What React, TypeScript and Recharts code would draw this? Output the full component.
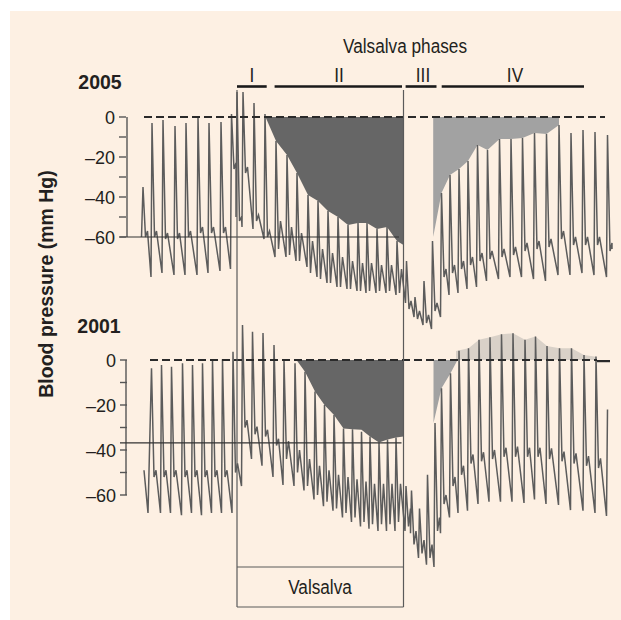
import React from 'react';
import { ComposedChart, Line, Area, XAxis, YAxis, ReferenceLine } from 'recharts';

// time axis in seconds, pressure in mm Hg relative to resting systolic
// beat rows: [peak time, systolic peak, dip, dicrotic notch, diastolic trough]
const topLead = [[1.45, -60]];
const topBeats = [
  [1.6, -35, -60, -57, -80],
  [2.5, -3, -60, -57, -78],
  [3.6, -1.5, -61, -58, -79],
  [4.8, -4.5, -61, -58, -79],
  [5.9, -3, -60, -57, -79],
  [7.1, 0, -58, -55, -78],
  [8.2, -3, -58, -55, -77],
  [9.4, -2.5, -58, -55, -76],
  [10.45, 1.5, -26, -23, -50],
  [11.0, 12.5, -52, -50, -55],
  [11.6, 12.5, -28, -25, -56],
  [12.7, 7, -52, -49, -61],
  [13.8, 1.5, -60, -57, -70],
  [14.9, -12, -66, -52, -70],
  [16.0, -19, -69, -55, -72],
  [17.0, -28, -72, -58, -75],
  [18.1, -39, -78, -62, -80],
  [19.1, -42, -81, -66, -83],
  [20.1, -47, -83, -68, -85],
  [21.1, -50, -85, -70, -86],
  [22.1, -54, -86, -72, -87],
  [23.1, -53, -87, -73, -88],
  [24.0, -53, -87, -73, -88],
  [25.0, -56, -87, -74, -88],
  [26.0, -55, -87, -74, -89],
  [27.0, -62, -88, -76, -93],
  [27.95, -72, -96, -92, -100],
  [28.8, -90, -101, -97, -104],
  [29.7, -82, -103, -99, -106],
  [30.55, -62, -97, -93, -100],
  [31.45, -38, -80, -76, -89],
  [32.3, -29, -78, -74, -88],
  [33.2, -26, -76, -72, -86],
  [34.1, -22, -74, -70, -85],
  [35.05, -14, -72, -68, -82],
  [36.05, -16.5, -71, -67, -81],
  [37.25, -11, -70, -66, -80],
  [38.4, -11, -69, -65, -80],
  [39.55, -10.5, -67, -63, -81],
  [40.75, -8, -66, -62, -82],
  [41.95, -8.5, -65, -61, -79],
  [43.2, -4, -61, -57, -79],
  [44.4, -8, -64, -60, -78],
  [45.6, -6.5, -64, -60, -79],
  [46.8, -7.5, -64, -60, -80],
  [48.05, -9, -67, -63],
];
const topTrail = [[48.5, -66]];

const botLead = [[1.7, -49], [2.1, -68]];
const botBeats = [
  [2.45, -3.7, -52, -49, -68],
  [3.45, -2.2, -52, -49, -68],
  [4.45, -3, -52, -49, -69],
  [5.55, -1.5, -52, -49, -68],
  [6.55, -2.2, -52, -49, -69],
  [7.55, -1.5, -52, -49, -68],
  [8.55, 0, -52, -49, -68],
  [9.55, 0.3, -52, -49, -68],
  [10.6, 3.7, -50, -46, -56],
  [11.55, 15.5, -30, -26.7, -44],
  [12.55, 12.6, -33, -29.6, -47],
  [13.6, 12, -34, -31, -52],
  [14.7, 6.7, -38, -35, -55.5],
  [15.7, 0, -44, -36, -56],
  [16.8, -1.5, -50, -40, -58],
  [17.8, -5.2, -56, -44, -62],
  [18.8, -14, -60, -47, -65],
  [19.75, -20, -63, -49, -67],
  [20.7, -24.4, -66, -51, -70],
  [21.65, -30.4, -68, -52, -72],
  [22.55, -30.8, -70, -53, -74],
  [23.45, -31.9, -72, -54, -75],
  [24.3, -34, -73, -55, -76],
  [25.2, -36.7, -73, -55, -76],
  [26.05, -35.3, -73, -55, -76],
  [26.9, -34.4, -72, -55, -76],
  [27.9, -56, -74, -66, -77],
  [28.45, -58, -82, -76, -88],
  [29.25, -66, -86, -80, -91],
  [30.05, -51, -88, -82, -92],
  [30.8, -28, -76, -70, -77],
  [31.45, -12.6, -64, -60, -70],
  [32.35, -5.9, -56, -52, -68],
  [33.2, 4.1, -51, -47, -67],
  [34.15, 5.2, -46, -42, -64],
  [35.2, 9, -45, -41, -63],
  [36.3, 10.1, -44, -40, -63],
  [37.45, 11.4, -43, -39, -63],
  [38.6, 11.9, -43, -38.5, -63.5],
  [39.8, 9, -43, -39, -62],
  [40.85, 10.4, -43, -39, -64],
  [42.0, 6.2, -44, -39.3, -64.4],
  [43.25, 5.2, -45, -40.7, -66.7],
  [44.45, 5.2, -46, -41.5, -67],
  [45.7, 2.2, -47, -42.7, -68],
  [46.9, 1.5, -48, -43.7, -69.3],
  [48.05, -22],
];
const botTrail: number[][] = [];

// shaded areas between the 0 line and the peak envelope
const topPhase2 = [
  [13.85, 0], [14.9, -12], [16.0, -19], [17.0, -28], [18.1, -39], [19.1, -42],
  [20.1, -47], [21.1, -50], [22.1, -54], [23.1, -53], [24.0, -53], [25.0, -56],
  [26.0, -55], [27.0, -62], [27.65, -64],
];
const topPhase4 = [
  [30.62, -60], [31.45, -38], [32.3, -29], [33.2, -26], [34.1, -22], [35.05, -14],
  [36.05, -16.5], [37.25, -11], [38.4, -11], [39.55, -10.5], [40.75, -8],
  [41.95, -8.5], [43.2, -4],
];
const botPhase2 = [
  [16.95, 0], [17.8, -5.2], [18.8, -14], [19.75, -20], [20.7, -24.4], [21.65, -30.4],
  [22.55, -30.8], [23.45, -31], [24.3, -34], [25.2, -36.7], [26.05, -35.3],
  [26.9, -34.4], [27.65, -34],
];
const botPhase4 = [[30.65, -28], [31.45, -12.6], [32.35, -5.9], [33.05, 0]];
const botOvershoot = [
  [32.9, 4], [34.15, 5.2], [35.2, 9], [36.3, 10.1], [37.45, 11.4], [38.6, 11.9],
  [39.8, 9], [40.85, 10.4], [42.0, 6.2], [43.25, 5.2], [44.45, 5.2], [45.7, 2.2],
  [46.9, 1.5],
];

const yTicks = [0, -10, -20, -30, -40, -50, -60];
const phaseLabels = ['I', 'II', 'III', 'IV'];
const phaseSpans = [[11.0, 13.97], [14.76, 27.5], [27.86, 30.95], [31.47, 45.7]];
const phaseLabelX = [252, 339, 422.5, 514.5];

const CREAM = '#fdf0e3';
const TRACE = '#5c5c5c';
const AXIS = '#555';
const NARROW = "'Liberation Sans Narrow', 'Arial Narrow', 'Liberation Sans', sans-serif";
const BOLD = "'Liberation Sans', Arial, sans-serif";

function buildWave(lead: number[][], beats: number[][], trail: number[][]) {
  const pts = lead.map(([t, v]) => ({ t, v }));
  beats.forEach((b, i) => {
    pts.push({ t: b[0], v: b[1] });
    if (b.length < 4) return;
    pts.push({ t: b[0] + 0.25, v: b[2] });
    pts.push({ t: b[0] + 0.45, v: b[3] });
    const next = beats[i + 1];
    if (next && b.length > 4) pts.push({ t: next[0] - 0.1, v: b[4] });
  });
  trail.forEach(([t, v]) => pts.push({ t, v }));
  return pts;
}

const toPts = (rows: number[][]) => rows.map(([t, v]) => ({ t, v }));

const topWave = buildWave(topLead, topBeats, topTrail);
const botWave = buildWave(botLead, botBeats, botTrail);

const renderTick = (props: any) => {
  const { x, y, payload } = props;
  const v = payload.value;
  if (v % 20 !== 0) return <g />;
  return (
    <text x={x} y={y} dy={6.5} textAnchor="end" fontFamily={BOLD} fontSize={18} fill="#231f20">
      {v === 0 ? '0' : '\u2013' + Math.abs(v)}
    </text>
  );
};

const Txt: React.FC<{ x: number; y: number; size: number; bold?: boolean; rotate?: boolean; narrow?: number; children: React.ReactNode }> = ({
  x, y, size, bold, rotate, narrow, children,
}) => (
  <div
    style={{
      position: 'absolute',
      left: x,
      top: y,
      transform: `translate(-50%, -50%)${rotate ? ' rotate(-90deg)' : ''}${narrow ? ` scaleX(${narrow})` : ''}`,
      whiteSpace: 'nowrap',
      lineHeight: 1,
      fontSize: size,
      fontFamily: bold ? BOLD : NARROW,
      fontWeight: bold ? 700 : 400,
      color: '#231f20',
    }}
  >
    {children}
  </div>
);

const axisProps = {
  type: 'number' as const,
  width: 1,
  allowDataOverflow: true,
  ticks: yTicks,
  interval: 0 as const,
  axisLine: false,
  tickLine: { stroke: AXIS, strokeWidth: 1.4 },
  tickSize: 7,
  tickMargin: 4,
  tick: renderTick,
};

export default function App() {
  return (
    <div style={{ position: 'absolute', left: 0, top: 0, width: 621, height: 620, background: '#fff', overflow: 'hidden' }}>
      <div style={{ position: 'absolute', left: 10, top: 11, width: 611, height: 609, background: CREAM }} />
      <div style={{ position: 'absolute', left: 0, top: 0 }}>
        <ComposedChart width={621} height={620} margin={{ top: 12, right: 8, bottom: 8, left: 125 }}>
          <XAxis dataKey="t" type="number" domain={[0, 48.6]} allowDataOverflow hide />
          <YAxis yAxisId="top" domain={[-247.5, 52.5]} {...axisProps} />
          <YAxis yAxisId="bot" domain={[-112, 154.667]} {...axisProps} />

          <Area yAxisId="top" data={toPts(topPhase2)} dataKey="v" type="linear" baseValue={0} fill="#666" fillOpacity={1} stroke="none" isAnimationActive={false} />
          <Area yAxisId="top" data={toPts(topPhase4)} dataKey="v" type="linear" baseValue={0} fill="#a2a2a2" fillOpacity={1} stroke="none" isAnimationActive={false} />
          <Area yAxisId="bot" data={toPts(botPhase2)} dataKey="v" type="linear" baseValue={0} fill="#666" fillOpacity={1} stroke="none" isAnimationActive={false} />
          <Area yAxisId="bot" data={toPts(botPhase4)} dataKey="v" type="linear" baseValue={0} fill="#a2a2a2" fillOpacity={1} stroke="none" isAnimationActive={false} />
          <Area yAxisId="bot" data={toPts(botOvershoot)} dataKey="v" type="linear" baseValue={0} fill="#d9d1c8" fillOpacity={1} stroke="none" isAnimationActive={false} />

          <Line yAxisId="top" data={topWave} dataKey="v" type="linear" stroke={TRACE} strokeWidth={1.5} dot={false} activeDot={false} isAnimationActive={false} />
          <Line yAxisId="bot" data={botWave} dataKey="v" type="linear" stroke={TRACE} strokeWidth={1.5} dot={false} activeDot={false} isAnimationActive={false} />

          {/* axis spines */}
          <ReferenceLine yAxisId="top" segment={[{ x: 0, y: 0 }, { x: 0, y: -60 }]} stroke={AXIS} strokeWidth={1.4} ifOverflow="visible" />
          <ReferenceLine yAxisId="bot" segment={[{ x: -0.1, y: 0 }, { x: -0.1, y: -60 }]} stroke={AXIS} strokeWidth={1.4} ifOverflow="visible" />

          {/* zero lines */}
          <ReferenceLine yAxisId="top" segment={[{ x: 1.7, y: 0 }, { x: 47.8, y: 0 }]} stroke="#2a2a2a" strokeWidth={2.2} strokeDasharray="8 4" ifOverflow="visible" />
          <ReferenceLine yAxisId="bot" segment={[{ x: 2.3, y: 0 }, { x: 47.0, y: 0 }]} stroke="#2a2a2a" strokeWidth={2.2} strokeDasharray="8 4" ifOverflow="visible" />
          <ReferenceLine yAxisId="bot" segment={[{ x: 47.0, y: -0.5 }, { x: 48.3, y: -0.5 }]} stroke="#2a2a2a" strokeWidth={2.2} ifOverflow="visible" />

          {/* level lines at the phase II minimum */}
          <ReferenceLine yAxisId="top" segment={[{ x: -0.7, y: -60 }, { x: 27.2, y: -60 }]} stroke="#333" strokeWidth={1.2} ifOverflow="visible" />
          <ReferenceLine yAxisId="bot" segment={[{ x: -0.7, y: -36.8 }, { x: 27.45, y: -36.8 }]} stroke="#333" strokeWidth={1.2} ifOverflow="visible" />

          {/* Valsalva strain window and box */}
          <ReferenceLine yAxisId="top" segment={[{ x: 11.0, y: 13.5 }, { x: 11.0, y: -245 }]} stroke="#5a5a5a" strokeWidth={1.2} ifOverflow="visible" />
          <ReferenceLine yAxisId="top" segment={[{ x: 27.65, y: 13.5 }, { x: 27.65, y: -245 }]} stroke="#5a5a5a" strokeWidth={1.2} ifOverflow="visible" />
          <ReferenceLine yAxisId="top" segment={[{ x: 11.0, y: -225 }, { x: 27.65, y: -225 }]} stroke="#5a5a5a" strokeWidth={1.2} ifOverflow="visible" />
          <ReferenceLine yAxisId="top" segment={[{ x: 11.0, y: -245 }, { x: 27.65, y: -245 }]} stroke="#5a5a5a" strokeWidth={1.2} ifOverflow="visible" />

          {/* phase bars */}
          {phaseSpans.map(([a, b], i) => (
            <ReferenceLine
              key={phaseLabels[i]}
              yAxisId="top"
              segment={[{ x: a, y: 15.25 }, { x: b, y: 15.25 }]}
              stroke="#1a1a1a"
              strokeWidth={2.6}
              ifOverflow="visible"
            />
          ))}
        </ComposedChart>
      </div>

      <Txt x={405} y={45.5} size={20} narrow={0.86}>Valsalva phases</Txt>
      {phaseLabels.map((p, i) => (
        <Txt key={p} x={phaseLabelX[i]} y={75} size={20} narrow={0.86}>{p}</Txt>
      ))}
      <Txt x={100} y={83} size={19.5} bold>2005</Txt>
      <Txt x={99} y={327} size={19.5} bold>2001</Txt>
      <Txt x={46.5} y={284} size={19.5} bold rotate>Blood pressure (mm Hg)</Txt>
      <Txt x={320} y={587} size={20} narrow={0.86}>Valsalva</Txt>
    </div>
  );
}
